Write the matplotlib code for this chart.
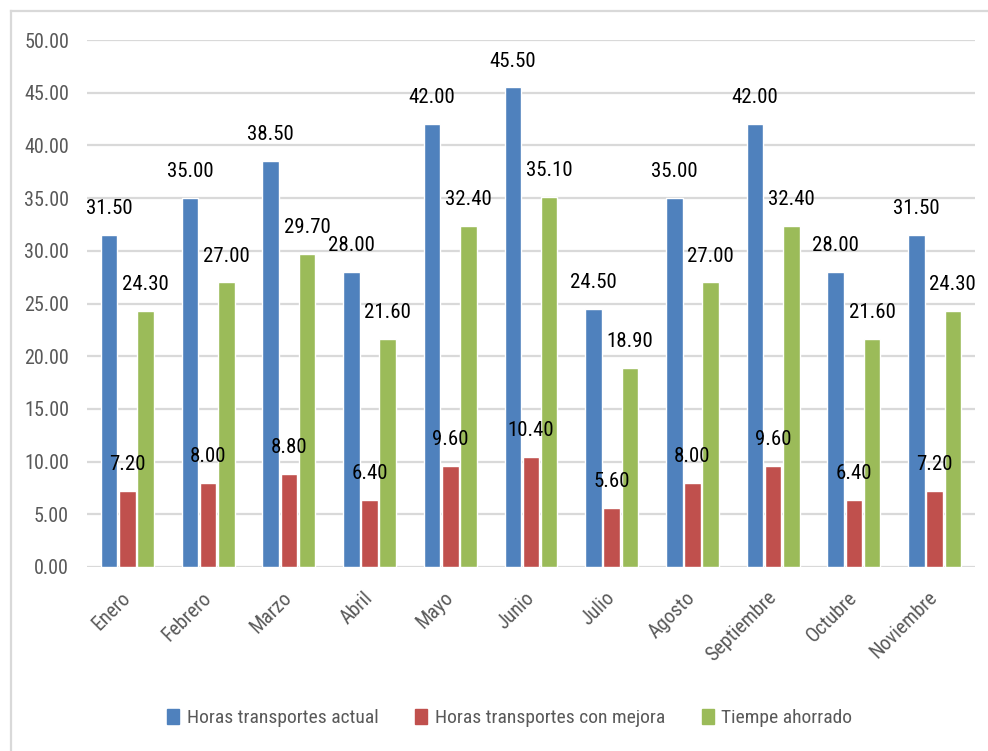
import matplotlib
matplotlib.use("Agg")
import matplotlib.pyplot as plt
from matplotlib import font_manager
from matplotlib.lines import Line2D
import numpy as np

# Prefer a narrow sans face for the Office-style look
_available = {(f.name, str(f.stretch)) for f in font_manager.fontManager.ttflist}
_names = {n for n, _ in _available}
font_family = "DejaVu Sans"
font_stretch = "normal"
for cand in ["Liberation Sans Narrow", "Roboto Condensed", "Open Sans Condensed",
             "Noto Sans Condensed", "DejaVu Sans Condensed"]:
    if cand in _names:
        font_family = cand
        break
else:
    cond = [n for n, s in _available if s in ("condensed", "semi-condensed", "75", "87")
            and n in ("Noto Sans", "Open Sans", "Roboto", "DejaVu Sans")]
    if cond:
        font_family = cond[0]
        font_stretch = "condensed"

plt.rcParams['font.family'] = [font_family, 'DejaVu Sans']
plt.rcParams['font.stretch'] = font_stretch

meses = ["Enero", "Febrero", "Marzo", "Abril", "Mayo", "Junio", "Julio",
         "Agosto", "Septiembre", "Octubre", "Noviembre"]
horas_actual = [31.50, 35.00, 38.50, 28.00, 42.00, 45.50, 24.50, 35.00, 42.00, 28.00, 31.50]
horas_mejora = [7.20, 8.00, 8.80, 6.40, 9.60, 10.40, 5.60, 8.00, 9.60, 6.40, 7.20]
tiempo_ahorrado = [24.30, 27.00, 29.70, 21.60, 32.40, 35.10, 18.90, 27.00, 32.40, 21.60, 24.30]

series = [
    ("Horas transportes actual", horas_actual, "#4F81BD"),
    ("Horas transportes con mejora", horas_mejora, "#C0504D"),
    ("Tiempe ahorrado", tiempo_ahorrado, "#9BBB59"),
]

fig = plt.figure(figsize=(9.88, 7.51), dpi=100)
ax = fig.add_axes([87 / 988, 1 - 567 / 751, 888 / 988, 527 / 751])

x = np.arange(len(meses))
step = 0.225
width = 0.205
for i, (name, vals, color) in enumerate(series):
    pos = x + (i - 1) * step
    ax.bar(pos, vals, width=width, color=color, edgecolor="white",
           linewidth=1.0, label=name, zorder=3)
    for xp, v in zip(pos, vals):
        ax.annotate(f"{v:.2f}", (xp, v), xytext=(0, 19), textcoords="offset points",
                    ha="center", va="center", fontsize=15, color="black", zorder=4)

ax.set_xlim(-0.5, len(meses) - 0.5)
ax.set_ylim(0, 50)
yt = np.arange(0, 50.1, 5)
ax.set_yticks(yt)
ax.set_yticklabels([f"{t:.2f}" for t in yt])
ax.yaxis.grid(True, color="#D9D9D9", linewidth=1.6, zorder=0)
ax.set_axisbelow(True)
for s in ax.spines.values():
    s.set_visible(False)
ax.tick_params(axis="y", length=0, labelsize=14.5, labelcolor="#595959", pad=13)
ax.set_xticks(x)
ax.set_xticklabels(meses, rotation=45, ha="right", va="center", rotation_mode="anchor")
ax.tick_params(axis="x", length=0, labelsize=14.5, labelcolor="#595959", pad=20)

handles = [plt.Rectangle((0, 0), 1, 1, color=c) for _, _, c in series]
fig.legend(handles, [n for n, _, _ in series], loc="center",
           bbox_to_anchor=(0.516, 1 - 718 / 751), ncol=3, frameon=False,
           fontsize=14, labelcolor="#595959", handlelength=0.6, handleheight=0.8,
           handletextpad=0.4, columnspacing=1.9)

# chart-area border (left and top edges)
fig.add_artist(Line2D([11 / 988, 11 / 988], [0, 1 - 11 / 751], transform=fig.transFigure,
                      color="#D9D9D9", linewidth=1.6))
fig.add_artist(Line2D([11 / 988, 1], [1 - 11 / 751, 1 - 11 / 751], transform=fig.transFigure,
                      color="#D9D9D9", linewidth=1.6))

fig.savefig("out.png", dpi=100, facecolor="white")
